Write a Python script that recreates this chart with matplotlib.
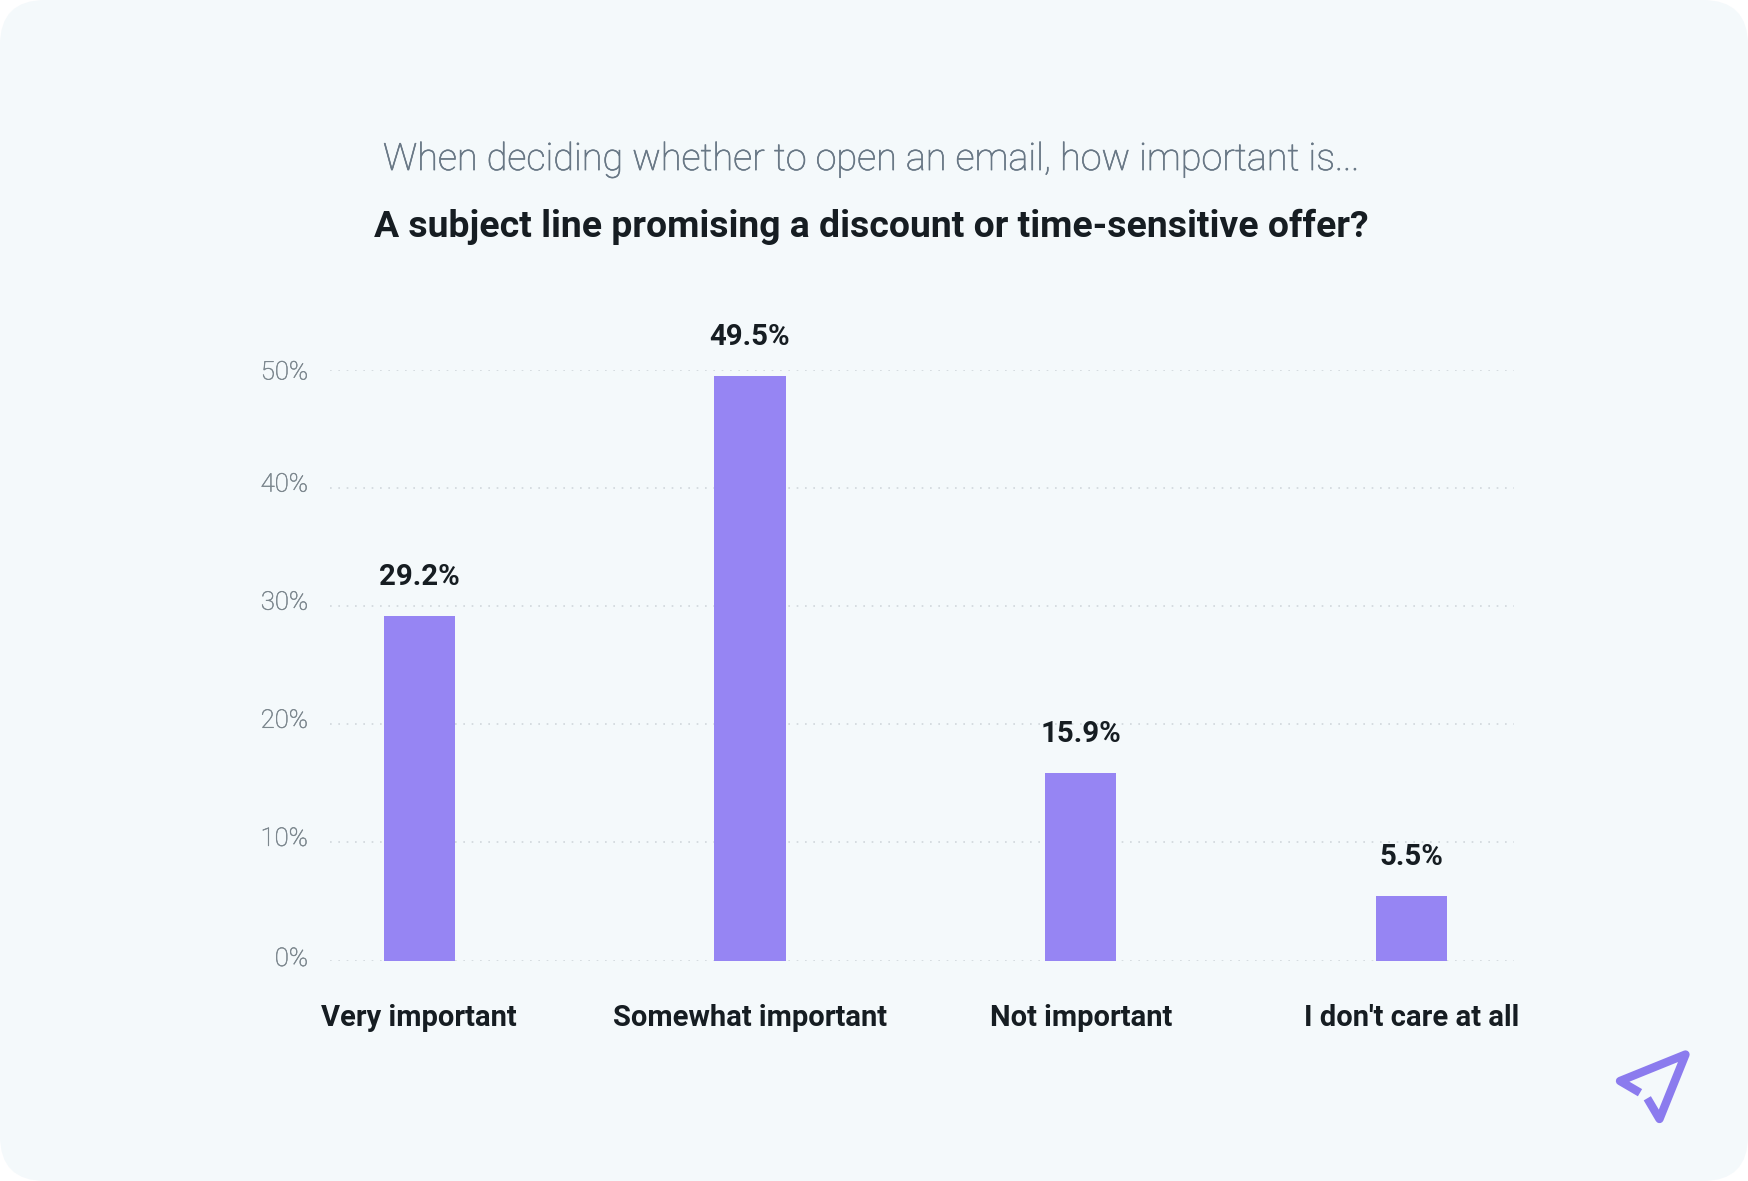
import matplotlib
matplotlib.use("Agg")
import matplotlib.pyplot as plt
import matplotlib.patheffects as pe
from matplotlib.patches import FancyBboxPatch
from matplotlib.lines import Line2D
from matplotlib.transforms import Affine2D, ScaledTranslation

categories = ["Very important", "Somewhat important", "Not important", "I don't care at all"]
values = [29.2, 49.5, 15.9, 5.5]
value_labels = ["29.2%", "49.5%", "15.9%", "5.5%"]
y_ticks = [0, 10, 20, 30, 40, 50]
y_tick_labels = ["0%", "10%", "20%", "30%", "40%", "50%"]
subtitle = "When deciding whether to open an email, how important is..."
title = "A subject line promising a discount or time-sensitive offer?"

W, H = 1748, 1181
BG = "#f4f9fb"
BAR = "#9685f3"
DARK = "#161d22"
FONT = "Roboto"

fig = plt.figure(figsize=(W / 100, H / 100), dpi=100, facecolor="white")
px = Affine2D().scale(1, -1).translate(0, H)  # top-left pixel coordinates

card = FancyBboxPatch((45, 45), W - 90, H - 90, boxstyle="round,pad=45,rounding_size=45",
                      transform=px, facecolor=BG, edgecolor="none", zorder=0)
fig.add_artist(card)

ax = fig.add_axes([330 / W, 1 - 960.5 / H, (1514 - 330) / W, (960.5 - 370) / H])
ax.patch.set_alpha(0)
x = list(range(len(categories)))
ax.set_xlim(-0.27, 3.31)
ax.set_ylim(0, 50)
ax.bar(x, values, width=0.2156, color=BAR, zorder=3)
ax.set_yticks(y_ticks)
ax.set_yticklabels(y_tick_labels, fontsize=18.5, color="#7b868d", family=FONT, fontweight="light")
ax.set_xticks(x)
ax.set_xticklabels(categories, fontsize=20.95, color=DARK, family=FONT, fontweight="bold")
ax.tick_params(axis="y", length=0, pad=15.8)
ax.tick_params(axis="x", length=0, pad=31)
ax.grid(axis="y", color="#d0d7db", linewidth=1.2, linestyle=(0, (1, 4)), zorder=1)
ax.grid(axis="x", visible=False)
for s in ax.spines.values():
    s.set_visible(False)

# the reference's axis labels sit slightly off their grid lines
label_shift_px = [4, 6, 6, 6, 6, 0]
for lab, dy in zip(ax.get_yticklabels(), label_shift_px):
    lab.set_transform(lab.get_transform() + ScaledTranslation(0, dy / 100, fig.dpi_scale_trans))
    lab.set_path_effects([pe.withStroke(linewidth=0.35, foreground="#7b868d")])

for xi, v, lab in zip(x, values, value_labels):
    ax.annotate(lab, (xi, v), xytext=(0, 25), textcoords="offset pixels", ha="center", va="bottom",
                fontsize=21.2, color=DARK, family=FONT, fontweight="bold")

fig.text(871 / W, 1 - 159.3 / H, subtitle, ha="center", va="center", fontsize=27.2, color="#687785",
         family=FONT, fontweight="light",
         path_effects=[pe.withStroke(linewidth=0.45, foreground="#687785")])
fig.text(871 / W, 1 - 226.4 / H, title, ha="center", va="center", fontsize=26.9, color=DARK,
         family=FONT, fontweight="bold")

# logo
logo_kw = dict(transform=px, color="#8b7bee", linewidth=6.0, solid_capstyle="butt", solid_joinstyle="round")
fig.add_artist(Line2D([1640, 1620, 1685.5, 1659.5, 1647.3], [1092.7, 1081, 1054.5, 1119, 1098.3], **logo_kw))

fig.savefig("out.png", dpi=100, facecolor="white")
